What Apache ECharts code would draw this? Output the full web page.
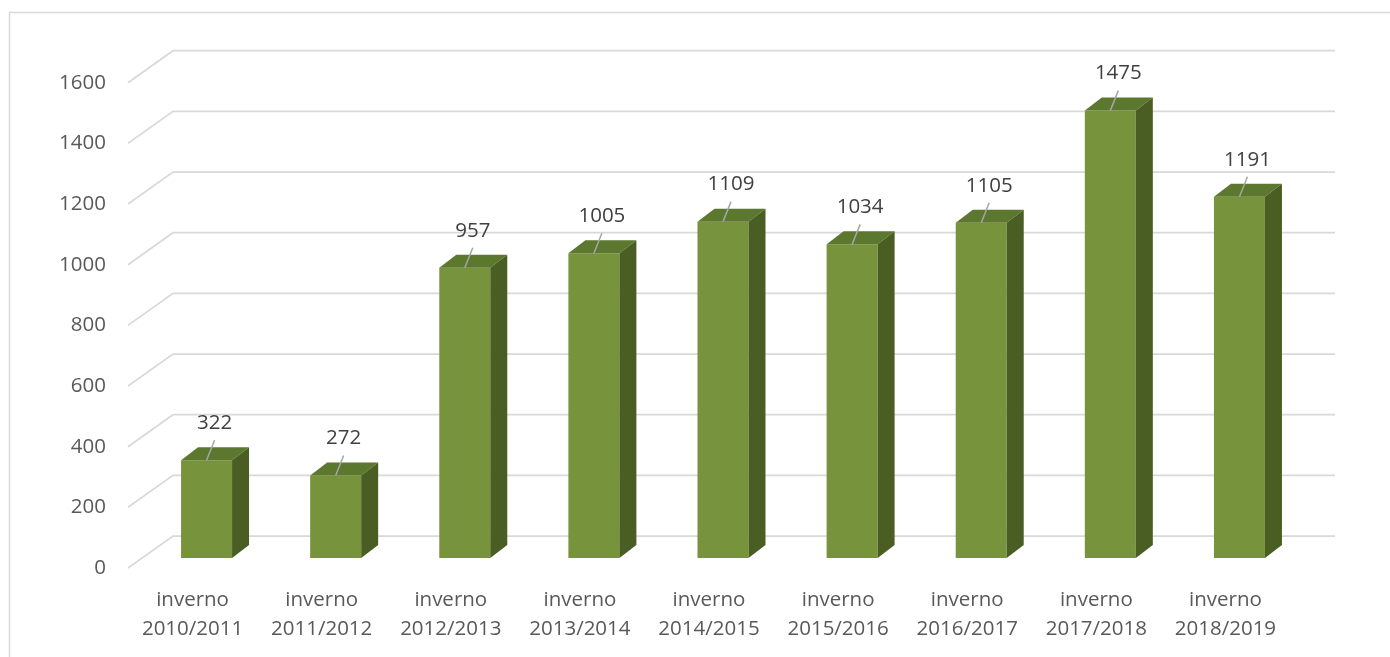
<!DOCTYPE html>
<html>
<head>
<meta charset="utf-8">
<script src="https://cdn.jsdelivr.net/npm/echarts@6/dist/echarts.min.js"></script>
<style>html,body{margin:0;padding:0;background:#fff}#c{width:1390px;height:657px}</style>
</head>
<body>
<div id="c"></div>
<script>
const categories = ['inverno\n2010/2011','inverno\n2011/2012','inverno\n2012/2013','inverno\n2013/2014','inverno\n2014/2015','inverno\n2015/2016','inverno\n2016/2017','inverno\n2017/2018','inverno\n2018/2019'];
const values = [322, 272, 957, 1005, 1109, 1034, 1105, 1475, 1191];
const yTicks = [0, 200, 400, 600, 800, 1000, 1200, 1400, 1600];

const FONT = '"Open Sans", "Liberation Sans", sans-serif';
const FRONT = '#77933c', TOP = '#5c772e', SIDE = '#4a5e24';
const DX = 17, DY = -13; // bar depth
const chart = echarts.init(document.getElementById('c'), null, {renderer: 'canvas'});

chart.setOption({
  animation: false,
  backgroundColor: '#fff',
  graphic: [{
    type: 'rect', z: -10, silent: true,
    shape: {x: 9.5, y: 12.5, width: 1500, height: 800},
    style: {fill: 'none', stroke: '#d9d9d9', lineWidth: 1.5}
  }],
  grid: {left: 142, right: 86, top: 72.7, bottom: 99, containLabel: false},
  xAxis: {
    type: 'category', data: categories,
    axisLine: {show: false}, axisTick: {show: false},
    axisLabel: {
      interval: 0, margin: 28, color: '#595959', fontSize: 20.5, fontFamily: FONT,
      lineHeight: 29, padding: [0, 28, 0, 0]
    }
  },
  yAxis: {
    type: 'value', min: 0, max: 1600, interval: 200,
    axisLine: {show: false}, axisTick: {show: false}, splitLine: {show: false},
    axisLabel: {
      margin: 36, color: '#595959', fontSize: 20.5, fontFamily: FONT,
      verticalAlign: 'top', lineHeight: 20,
      formatter: function (v) { return String(v); }
    }
  },
  series: [{
    type: 'custom', z: 1, clip: false, silent: true,
    data: yTicks.map(v => [0, v]),
    renderItem: function (params, api) {
      const y = api.coord([0, api.value(1)])[1];
      const x0 = params.coordSys.x, x1 = x0 + params.coordSys.width;
      return {
        type: 'polyline',
        shape: {points: [[x0 - 14, y + 10], [x0 + 31, y - 22], [x1 + 31, y - 22]]},
        style: {stroke: '#d9d9d9', lineWidth: 1.75, fill: null}
      };
    }
  }, {
    type: 'custom', z: 2, clip: false, silent: true,
    data: values.map((v, i) => [i, v]),
    renderItem: function (params, api) {
      const t = api.coord([api.value(0), api.value(1)]);
      const b = api.coord([api.value(0), 0]);
      const band = api.size([1, 0])[0];
      const w = band * 0.395;
      const x0 = t[0] - w / 2, x1 = t[0] + w / 2;
      const ty = t[1], by = b[1];
      return {
        type: 'group',
        children: [
          {type: 'rect', shape: {x: x0, y: ty, width: w, height: by - ty}, style: {fill: FRONT}},
          {type: 'polygon', shape: {points: [[x0, ty], [x1, ty], [x1 + DX, ty + DY], [x0 + DX, ty + DY]]}, style: {fill: TOP}},
          {type: 'polygon', shape: {points: [[x1, ty], [x1 + DX, ty + DY], [x1 + DX, by + DY], [x1, by]]}, style: {fill: SIDE}},
          {type: 'line', shape: {x1: t[0], y1: ty, x2: t[0] + 8, y2: ty - 20}, style: {stroke: '#a6a6a6', lineWidth: 1.5}},
          {type: 'text', style: {
            text: String(api.value(1)), x: t[0] + 8, y: ty - 37,
            align: 'center', verticalAlign: 'middle',
            fill: '#404040', fontSize: 20.5, fontFamily: FONT
          }}
        ]
      };
    }
  }]
});
</script>
</body>
</html>
